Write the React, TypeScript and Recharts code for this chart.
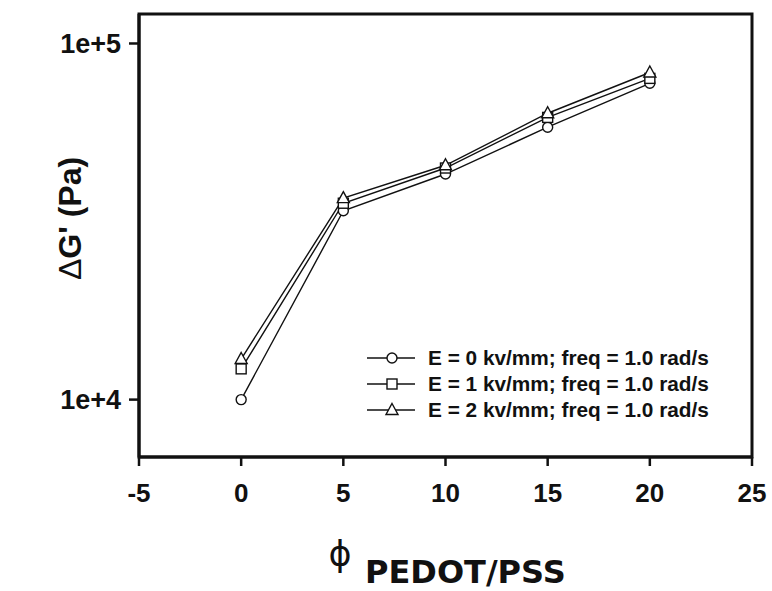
import {
  LineChart,
  Line,
  XAxis,
  YAxis,
  Legend,
  ReferenceArea,
} from "recharts";

// PEDOT/PSS volume fraction (%)
const phi = [0, 5, 10, 15, 20];

// storage modulus increment ΔG' (Pa) at 1.0 rad/s
const gE0 = [10000, 33900, 43000, 58200, 77300];
const gE1 = [12200, 35600, 44700, 62000, 79800];
const gE2 = [13000, 36800, 45500, 63700, 82900];

const xTicks = [-5, 0, 5, 10, 15, 20, 25];
const yTicks = [10000, 100000];

const seriesNames = [
  "E = 0 kv/mm; freq = 1.0 rad/s",
  "E = 1 kv/mm; freq = 1.0 rad/s",
  "E = 2 kv/mm; freq = 1.0 rad/s",
];

const data = phi.map((p, i) => ({ phi: p, e0: gE0[i], e1: gE1[i], e2: gE2[i] }));

type Kind = "circle" | "square" | "triangle";
const kinds: Kind[] = ["circle", "square", "triangle"];
const keys = ["e0", "e1", "e2"];

const ARIAL = "'Liberation Sans', Arial, sans-serif";

function Marker({ cx, cy, kind }: { cx: number; cy: number; kind: Kind }) {
  const common = { fill: "#fff", stroke: "#111", strokeWidth: 1.4 };
  if (kind === "circle") return <circle cx={cx} cy={cy} r={5} {...common} />;
  if (kind === "square")
    return <rect x={cx - 5} y={cy - 5} width={10} height={10} {...common} />;
  return (
    <polygon
      points={`${cx},${cy - 6.5} ${cx + 6},${cy + 4.5} ${cx - 6},${cy + 4.5}`}
      {...common}
    />
  );
}

function LegendBox() {
  return (
    <div style={{ fontFamily: ARIAL, fontWeight: 700, fontSize: 20.8, color: "#111" }}>
      {seriesNames.map((name, i) => (
        <div key={name} style={{ display: "flex", alignItems: "center", height: 26 }}>
          <svg width={50} height={20} style={{ display: "block" }}>
            <line x1={0} y1={10} x2={48} y2={10} stroke="#111" strokeWidth={1.4} />
            <Marker cx={25} cy={10} kind={kinds[i]} />
          </svg>
          <span style={{ marginLeft: 11, whiteSpace: "nowrap" }}>{name}</span>
        </div>
      ))}
    </div>
  );
}

function XTitle(props: any) {
  const { x, y } = props.viewBox;
  return (
    <g fill="#111">
      <text
        x={x + 201}
        y={y + 109}
        textAnchor="middle"
        fontFamily="'DejaVu Sans', sans-serif"
        fontSize={35}
      >
        ϕ
      </text>
      <text
        x={x + 226}
        y={y + 126}
        fontFamily="'DejaVu Sans', sans-serif"
        fontWeight={700}
        fontSize={32}
      >
        PEDOT/PSS
      </text>
    </g>
  );
}

function YTitle(props: any) {
  const { x, y, height } = props.viewBox;
  const cx = x + 31;
  const cy = y + height / 2 - 17;
  return (
    <text
      x={cx}
      y={cy}
      transform={`rotate(-90 ${cx} ${cy})`}
      textAnchor="middle"
      dominantBaseline="central"
      fontFamily={ARIAL}
      fontWeight={700}
      fontSize={32}
      fill="#111"
    >
      <tspan fontWeight={400}>Δ</tspan>G' (Pa)
    </text>
  );
}

export default function App() {
  return (
    <div style={{ position: "absolute", left: 0, top: 0, width: 772, height: 591, background: "#fff" }}>
      <LineChart
        width={772}
        height={591}
        data={data}
        margin={{ top: 14, right: 20, bottom: 74, left: 39 }}
      >
        <XAxis
          dataKey="phi"
          type="number"
          domain={[-5, 25]}
          ticks={xTicks}
          allowDataOverflow
          axisLine={{ stroke: "#111", strokeWidth: 3 }}
          tickLine={{ stroke: "#111", strokeWidth: 2.5 }}
          tickSize={9}
          tickMargin={18}
          height={60}
          tick={{ fill: "#111", fontFamily: ARIAL, fontWeight: 700, fontSize: 26 }}
          label={{ content: XTitle }}
        />
        <YAxis
          type="number"
          scale="log"
          domain={[6900, 121000]}
          ticks={yTicks}
          allowDataOverflow
          tickFormatter={(v: number) => `1e+${Math.round(Math.log10(v))}`}
          axisLine={{ stroke: "#111", strokeWidth: 3 }}
          tickLine={{ stroke: "#111", strokeWidth: 2.5 }}
          tickSize={10}
          tickMargin={8}
          width={100}
          tick={{ fill: "#111", fontFamily: ARIAL, fontWeight: 700, fontSize: 27 }}
          label={{ content: YTitle }}
        />
        <ReferenceArea
          x1={-5}
          x2={25}
          y1={6900}
          y2={121000}
          fill="none"
          fillOpacity={0}
          stroke="#111"
          strokeWidth={3}
        />
        {keys.map((k, i) => (
          <Line
            key={k}
            dataKey={k}
            name={seriesNames[i]}
            type="linear"
            stroke="#111"
            strokeWidth={1.4}
            isAnimationActive={false}
            dot={(p: any) => (
              <Marker key={`${k}-${p.index}`} cx={p.cx} cy={p.cy} kind={kinds[i]} />
            )}
          />
        ))}
        <Legend
          layout="vertical"
          align="center"
          verticalAlign="middle"
          content={() => <LegendBox />}
          wrapperStyle={{ position: "absolute", left: 367, top: 345, width: 380 }}
        />
      </LineChart>
    </div>
  );
}
